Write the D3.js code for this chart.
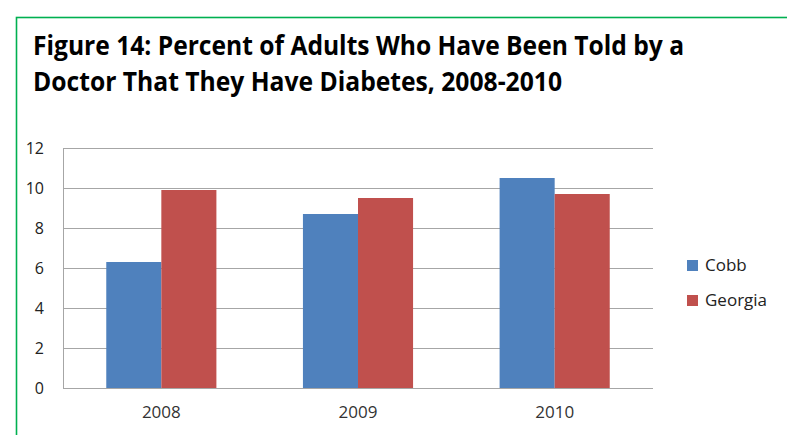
<!DOCTYPE html>
<html><head><meta charset="utf-8">
<script src="https://cdn.jsdelivr.net/npm/d3@7"></script>
<style>html,body{margin:0;padding:0;background:#fff;overflow:hidden}</style>
</head><body>
<svg id="c" width="787" height="435"></svg>
<script>
const categories = ["2008", "2009", "2010"];
const seriesNames = ["Cobb", "Georgia"];
const cobbValues = [6.3, 8.7, 10.5];
const georgiaValues = [9.9, 9.5, 9.7];
const yTicks = [0, 2, 4, 6, 8, 10, 12];
const titleLines = ["Figure 14: Percent of Adults Who Have Been Told by a", "Doctor That They Have Diabetes, 2008-2010"];
const colors = ["#4F81BD", "#C0504D"];

const svg = d3.select("#c");
const font = "'Open Sans', 'DejaVu Sans', sans-serif";

// outer green frame
svg.append("rect").attr("x", 16.5).attr("y", 17.5).attr("width", 800).attr("height", 440)
  .attr("fill", "none").attr("stroke", "#00B050").attr("stroke-width", 1.6);

// title
const tl = svg.append("g");
tl.append("text").attr("x", 33).attr("y", 55).text(titleLines[0])
  .attr("font-family", font).attr("font-weight", "bold").attr("font-size", 26).attr("fill", "#000")
  .attr("textLength", 651).attr("lengthAdjust", "spacingAndGlyphs");
tl.append("text").attr("x", 33).attr("y", 91).text(titleLines[1])
  .attr("font-family", font).attr("font-weight", "bold").attr("font-size", 26).attr("fill", "#000")
  .attr("textLength", 529).attr("lengthAdjust", "spacingAndGlyphs");

const pLeft = 63, pRight = 653, pTop = 148, pBottom = 388;
const x = d3.scaleBand().domain(categories).range([pLeft, pRight]).paddingInner(0.44).paddingOuter(0.22);
const x1 = d3.scaleBand().domain(seriesNames).range([0, x.bandwidth()]);
const y = d3.scaleLinear().domain([0, 12]).range([pBottom, pTop]);

// gridlines
svg.append("g").selectAll("line").data(yTicks).join("line")
  .attr("x1", pLeft).attr("x2", pRight)
  .attr("y1", d => Math.round(y(d)) + 0.5).attr("y2", d => Math.round(y(d)) + 0.5)
  .attr("stroke", "#A6A6A6").attr("stroke-width", 1);

// left axis line
svg.append("line").attr("x1", pLeft + 0.5).attr("x2", pLeft + 0.5).attr("y1", pTop).attr("y2", pBottom)
  .attr("stroke", "#A6A6A6");

// bars
const data = categories.map((c, i) => ({ c, vals: [cobbValues[i], georgiaValues[i]] }));
const groups = svg.append("g").selectAll("g").data(data).join("g")
  .attr("transform", d => `translate(${x(d.c)},0)`);
groups.selectAll("rect").data(d => d.vals.map((v, j) => ({ v, s: seriesNames[j], j })))
  .join("rect")
  .attr("x", d => x1(d.s)).attr("width", x1.bandwidth())
  .attr("y", d => y(d.v)).attr("height", d => y(0) - y(d.v))
  .attr("fill", d => colors[d.j]);

// bottom axis line on top
svg.append("line").attr("x1", pLeft).attr("x2", pRight).attr("y1", pBottom + 0.5).attr("y2", pBottom + 0.5)
  .attr("stroke", "#A6A6A6");

// y labels
svg.append("g").selectAll("text").data(yTicks).join("text")
  .attr("x", 44).attr("y", d => y(d)).attr("dy", "0.35em").attr("text-anchor", "end")
  .attr("font-family", font).attr("font-size", 16).attr("fill", "#222").text(d => d);

// x labels
svg.append("g").selectAll("text").data(categories).join("text")
  .attr("x", d => x(d) + x.bandwidth() / 2).attr("y", 412).attr("dy", "0.35em").attr("text-anchor", "middle")
  .attr("font-family", font).attr("font-size", 17).attr("fill", "#333").text(d => d);

// legend
const lg = svg.append("g").selectAll("g").data(seriesNames).join("g")
  .attr("transform", (d, i) => `translate(687,${260 + i * 35})`);
lg.append("rect").attr("width", 11).attr("height", 11).attr("fill", (d, i) => colors[i]);
lg.append("text").attr("x", 18).attr("y", 5.5).attr("dy", "0.35em")
  .attr("font-family", font).attr("font-size", 17).attr("fill", "#222").text(d => d);
</script>
</body></html>
